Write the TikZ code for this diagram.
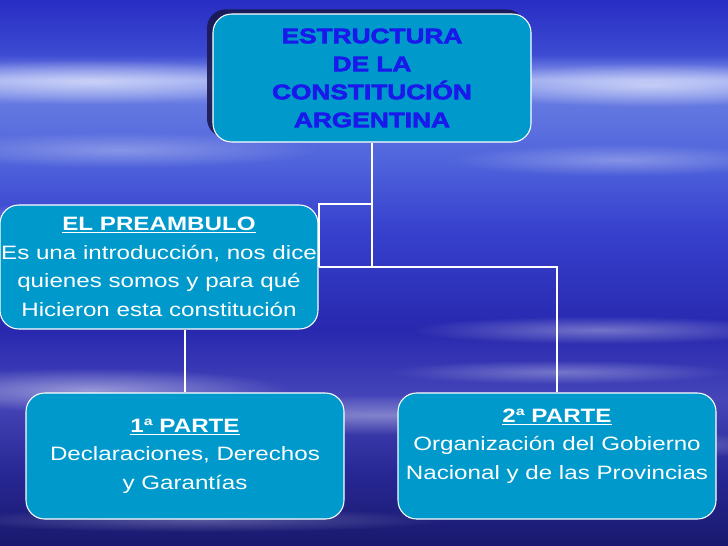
\documentclass[tikz,border=0pt]{standalone}
\usepackage{fontspec}
\setmainfont{Liberation Sans}[FakeStretch=1.25]
\usetikzlibrary{shadows,fadings}
\definecolor{cajaazul}{RGB}{0,153,204}
\definecolor{tituloazul}{RGB}{25,25,235}
\definecolor{sombra}{RGB}{25,25,80}
\definecolor{cieloA}{RGB}{40,45,195}
\definecolor{cieloB}{RGB}{60,75,210}
\definecolor{cieloC}{RGB}{150,165,240}
\definecolor{cieloD}{RGB}{100,120,225}
\definecolor{cieloE}{RGB}{80,100,220}
\definecolor{cieloF}{RGB}{55,65,205}
\definecolor{cieloG}{RGB}{40,40,175}
\definecolor{cieloH}{RGB}{70,70,185}
\definecolor{cieloI}{RGB}{40,40,150}
\definecolor{cieloJ}{RGB}{25,25,110}
\pgfdeclareverticalshading{cielo}{100bp}{color(0bp)=(cieloJ); color(25bp)=(cieloJ);
  color(32bp)=(cieloI); color(38.4bp)=(cieloH); color(44.8bp)=(cieloG);
  color(54bp)=(cieloF); color(60.3bp)=(cieloE); color(65.4bp)=(cieloD);
  color(67.7bp)=(cieloC); color(70bp)=(cieloB); color(75bp)=(cieloA); color(100bp)=(cieloA)}
\tikzfading[name=veta, inner color=transparent!0, outer color=transparent!100]

\tikzset{
  caja/.style={draw=white, line width=0.8pt, fill=cajaazul, rounded corners=14pt,
    minimum width=238.5pt, inner sep=0pt, align=center, text=white,
    font=\fontsize{14.5}{21.5}\selectfont},
  enlace/.style={draw=white, line width=1.5pt},
}

\begin{document}
\begin{tikzpicture}[x=0.75pt,y=-0.75pt]
  \useasboundingbox (0,0) rectangle (728,546);
  \shade[shading=cielo] (0,0) rectangle (728,546);
  % vetas claras del fondo
  \foreach \cx/\cy/\rx/\ry/\op in {90/82/200/22/.5, 650/85/180/22/.5, 120/150/200/18/.3,
      620/160/170/16/.3, 80/215/150/12/.3, 600/330/190/14/.35, 560/372/170/12/.3,
      90/390/200/22/.45, 380/415/300/20/.35, 650/445/130/14/.3, 200/520/250/12/.25}
    \fill[white, opacity=\op, path fading=veta]
      (\cx,\cy) ellipse ({\rx} and {\ry});

  \node[caja, minimum height=96pt, text=tituloazul,
        font=\fontsize{15.75}{21}\selectfont\bfseries\addfontfeatures{FakeBold=3},
        drop shadow={shadow xshift=-4.5pt, shadow yshift=3.5pt, fill=sombra, opacity=.9}]
    (raiz) at (372,78) {ESTRUCTURA\\DE LA\\CONSTITUCIÓN\\ARGENTINA};

  \node[caja, minimum height=93pt] (preambulo) at (159,267)
    {\textbf{\underline{EL PREAMBULO}}\\Es una introducción, nos dice\\quienes somos y para qué\\Hicieron esta constitución};

  \node[caja, minimum height=94.5pt] (parte1) at (185,456)
    {\textbf{\underline{1ª PARTE}}\\Declaraciones, Derechos\\y Garantías};

  \node[caja, minimum height=94.5pt] (parte2) at (557,456) {};
  \node[text=white, align=center, font=\fontsize{14.5}{21.5}\selectfont] (parte2txt)
    at ([yshift=7.5pt]parte2.center)
    {\textbf{\underline{2ª PARTE}}\\Organización del Gobierno\\Nacional y de las Provincias};

  \coordinate (cruce) at (raiz.south |- preambulo.east);
  \draw[enlace] (raiz.south) -- (cruce);
  \draw[enlace] (preambulo.east) -- (cruce) -| (parte2.north);
  \draw[enlace] (raiz.south |- preambulo.north) -| (preambulo.east);
  \draw[enlace] (parte1.north) -- (parte1.north |- preambulo.south);
\end{tikzpicture}
\end{document}
